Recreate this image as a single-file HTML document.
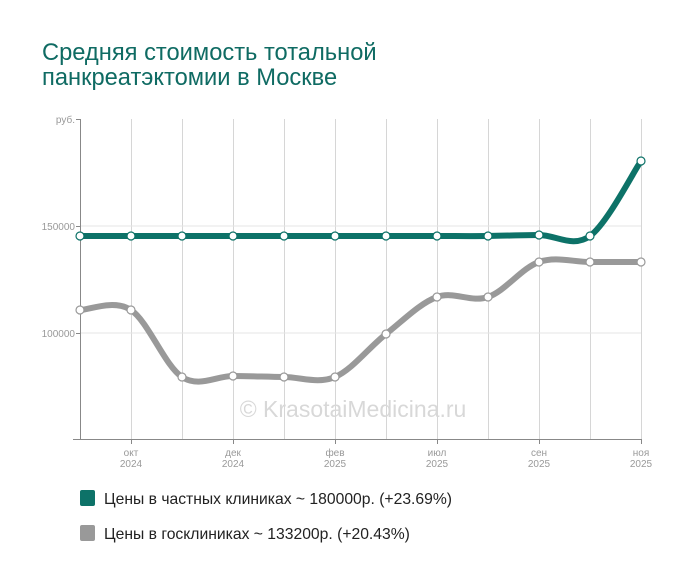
<!DOCTYPE html>
<html><head><meta charset="utf-8"><style>
body{margin:0;background:#fff;width:700px;height:582px;overflow:hidden;font-family:"Liberation Sans",sans-serif}
</style></head><body>
<svg width="700" height="582" xmlns="http://www.w3.org/2000/svg" font-family="Liberation Sans, sans-serif">
<text x="42" y="60" font-size="23.7" fill="#0f6b63">Средняя стоимость тотальной</text>
<text x="42" y="85" font-size="23.7" fill="#0f6b63">панкреатэктомии в Москве</text>
<g id="grid" stroke="#d6d6d6" stroke-width="1"></g>
<line x1="80" y1="226" x2="641" y2="226" stroke="#e4e4e4"/>
<line x1="80" y1="333" x2="641" y2="333" stroke="#e4e4e4"/>
<line x1="80.5" y1="119" x2="80.5" y2="439" stroke="#888"/>
<line x1="73" y1="439.5" x2="641" y2="439.5" stroke="#888"/>
<line x1="76" y1="119.5" x2="80" y2="119.5" stroke="#888"/>
<line x1="76" y1="226.5" x2="80" y2="226.5" stroke="#888"/>
<line x1="76" y1="333.5" x2="80" y2="333.5" stroke="#888"/>
<g font-size="10" fill="#999" text-anchor="end">
<text x="75" y="123">руб.</text><text x="75" y="230">150000</text><text x="75" y="337">100000</text></g>
<text x="353" y="417" font-size="23" fill="#d8d8d8" text-anchor="middle">© KrasotaiMedicina.ru</text>
<g font-size="10" fill="#999" text-anchor="middle" id="xl"></g>
<path id="p2" fill="none" stroke="#999" stroke-width="6"/>
<path id="p1" fill="none" stroke="#0d7268" stroke-width="6"/>
<g id="m"></g>
<rect x="80" y="490" width="15" height="16" rx="2" fill="#0d7268"/>
<text x="104" y="504" font-size="15.7" fill="#222">Цены в частных клиниках ~ 180000р. (+23.69%)</text>
<rect x="80" y="525" width="15" height="16" rx="2" fill="#999"/>
<text x="104" y="539" font-size="15.7" fill="#222">Цены в госклиниках ~ 133200р. (+20.43%)</text>
</svg>
<script>
var xs=[80,131,182,233,284,335,386,437,488,539,590,641];
var t=[236,236,236,236,236,236,236,236,236,235,236,161];
var g=[310,310,377,376,377,377,334,297,297,262,262,262];
var ns="http://www.w3.org/2000/svg";
function el(p,n,a){var e=document.createElementNS(ns,n);for(var k in a)e.setAttribute(k,a[k]);p.appendChild(e);return e;}
var gr=document.getElementById('grid');
for(var i=1;i<12;i++)el(gr,'line',{x1:xs[i]+.5,y1:119,x2:xs[i]+.5,y2:439});
var xl=document.getElementById('xl');
var lab=[[131,'окт','2024'],[233,'дек','2024'],[335,'фев','2025'],[437,'июл','2025'],[539,'сен','2025'],[641,'ноя','2025']];
lab.forEach(function(l){el(gr,'line',{x1:l[0]+.5,y1:439,x2:l[0]+.5,y2:444,stroke:'#888'});
var a=el(xl,'text',{x:l[0],y:456});a.textContent=l[1];var b=el(xl,'text',{x:l[0],y:467});b.textContent=l[2];});
function path(ys){var d='M'+xs[0]+','+ys[0];for(var i=0;i<11;i++){var p0=i?i-1:0,p3=i<10?i+2:11;
var c1x=xs[i]+(xs[i+1]-xs[p0])/6,c1y=ys[i]+(ys[i+1]-ys[p0])/6,c2x=xs[i+1]-(xs[p3]-xs[i])/6,c2y=ys[i+1]-(ys[p3]-ys[i])/6;
d+=' C'+c1x+','+c1y+' '+c2x+','+c2y+' '+xs[i+1]+','+ys[i+1];}return d;}
document.getElementById('p1').setAttribute('d',path(t));
document.getElementById('p2').setAttribute('d',path(g));
var m=document.getElementById('m');
for(var i=0;i<12;i++){el(m,'circle',{cx:xs[i],cy:g[i],r:4,fill:'#fff',stroke:'#999','stroke-width':1.2});
el(m,'circle',{cx:xs[i],cy:t[i],r:4,fill:'#fff',stroke:'#0d7268','stroke-width':1.2});}
</script>
</body></html>
